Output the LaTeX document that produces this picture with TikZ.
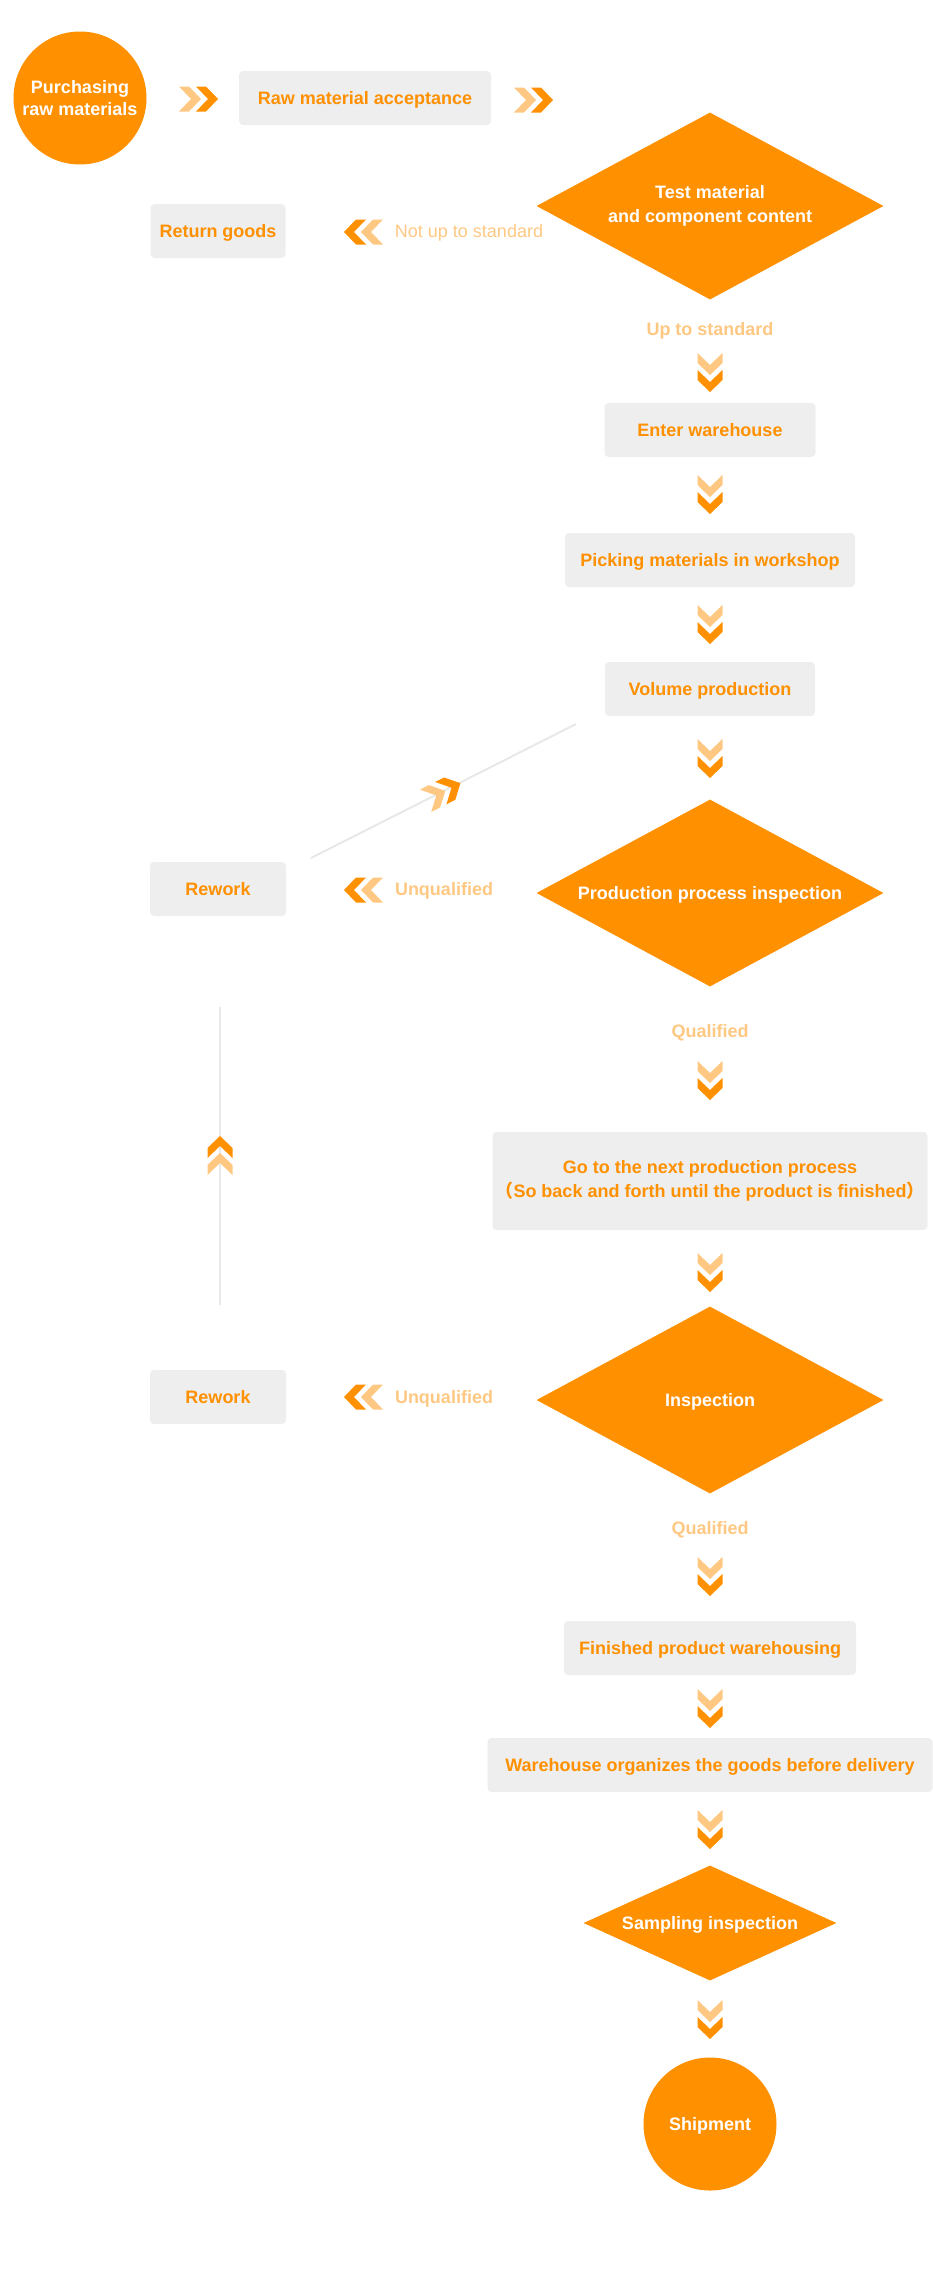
\documentclass[tikz,border=0pt]{standalone}
\usepackage{fontspec}
\setmainfont{Liberation Sans}
\newfontfamily\cjk{Noto Sans CJK SC}
\usetikzlibrary{shapes.geometric,positioning}
\definecolor{orng}{RGB}{255,144,0}
\definecolor{lorng}{RGB}{255,200,130}
\definecolor{boxgray}{RGB}{238,238,238}
\definecolor{linegray}{RGB}{232,232,232}
\tikzstyle{oneline} = [text height=13pt, text depth=0pt]
\tikzstyle{stepbox} = [rectangle, fill=boxgray, rounded corners=4pt, text=orng, align=center, inner sep=0pt, minimum height=54pt, font=\fontsize{18}{24}\selectfont\bfseries]
\tikzstyle{decide} = [diamond, fill=orng, text=white, align=center, inner sep=0pt, shape aspect=1.85, minimum width=347pt, minimum height=187pt, font=\fontsize{18}{24}\selectfont\bfseries]
\tikzstyle{ends} = [circle, fill=orng, text=white, align=center, inner sep=0pt, minimum size=133pt, font=\fontsize{18}{22}\selectfont\bfseries]
\tikzstyle{tag} = [oneline, text=lorng, font=\fontsize{18}{22}\selectfont\bfseries]
\tikzstyle{tagthin} = [oneline, text=lorng, font=\fontsize{18}{22}\selectfont]
\tikzstyle{backline} = [draw=linegray, line width=2pt]
\tikzset{dchev/.pic={
  \fill[lorng] (0,-12.5) -- (12,0) -- (0,12.5) -- (10,12.5) -- (22,0) -- (10,-12.5) -- cycle;
  \fill[orng] (17,-12.5) -- (29,0) -- (17,12.5) -- (27,12.5) -- (39,0) -- (27,-12.5) -- cycle;
}}

\begin{document}
\begin{tikzpicture}[x=1pt, y=-1pt]
\useasboundingbox (0,0) rectangle (932,2294);

\node [ends] (buy) at (80,98) {Purchasing\\raw materials};
\node [stepbox, oneline, right of = buy, node distance = 285pt, minimum width = 252pt] (accept) {Raw material acceptance};
\node [decide] (test) at (710,206) {Test material\\and component content};
\node [stepbox, oneline, left of = test, node distance = 492pt, yshift = -25pt, minimum width = 135pt] (back) {Return goods};
\node [tagthin, right of = back, node distance = 251pt] (nup) {Not up to standard};
\node [tag, below of = test, node distance = 123pt] (upstd) {Up to standard};

\node [stepbox, oneline, below of = test, node distance = 224pt, minimum width = 211pt] (store) {Enter warehouse};
\node [stepbox, oneline, below of = store, node distance = 130pt, minimum width = 290pt] (pick) {Picking materials in workshop};
\node [stepbox, oneline, below of = pick, node distance = 129pt, minimum width = 210pt] (volume) {Volume production};

\node [decide, oneline, below of = volume, node distance = 204pt] (ppi) {Production process inspection};
\node [stepbox, oneline, left of = ppi, node distance = 492pt, yshift = 4pt, minimum width = 136pt] (redo1) {Rework};
\node [tag, right of = redo1, node distance = 226pt] (unq1) {Unqualified};
\node [tag, below of = ppi, node distance = 138pt] (q1) {Qualified};
\node [stepbox, below of = ppi, node distance = 288pt, minimum width = 435pt, minimum height = 98pt] (next) {Go to the next production process\\{\cjk （}So back and forth until the product is finished{\cjk ）}};

\node [decide, oneline, below of = next, node distance = 219pt] (insp) {Inspection};
\node [stepbox, oneline, left of = insp, node distance = 492pt, yshift = 3pt, minimum width = 136pt] (redo2) {Rework};
\node [tag, right of = redo2, node distance = 226pt] (unq2) {Unqualified};
\node [tag, below of = insp, node distance = 128pt] (q2) {Qualified};

\node [stepbox, oneline, below of = insp, node distance = 248pt, minimum width = 292pt] (finish) {Finished product warehousing};
\node [stepbox, oneline, below of = finish, node distance = 117pt, minimum width = 445pt] (organize) {Warehouse organizes the goods before delivery};
\node [decide, oneline, below of = organize, node distance = 158pt, shape aspect = 2.2, minimum width = 253pt, minimum height = 115pt] (sample) {Sampling inspection};
\node [ends, oneline, below of = sample, node distance = 201pt] (ship) {Shipment};

\coordinate (lnA) at (311,858);
\coordinate (lnB) at (576,724);
\coordinate (lnC) at (220,1305);
\coordinate (lnD) at (220,1007);
\path [backline] (lnA) -- (lnB);
\path [backline] (lnC) -- (lnD);

\pic at (179,99) {dchev};
\pic at (514,100) {dchev};
\pic [rotate=180] at (383,232) {dchev};
\pic [rotate=180] at (383,890) {dchev};
\pic [rotate=180] at (383,1397) {dchev};
\pic [rotate=90] at (220,1175) {dchev};
\pic [rotate=26.8] at (425.6,800.8) {dchev};

\pic [rotate=-90] at (710,353) {dchev};
\pic [rotate=-90] at (710,475) {dchev};
\pic [rotate=-90] at (710,605) {dchev};
\pic [rotate=-90] at (710,739) {dchev};
\pic [rotate=-90] at (710,1061) {dchev};
\pic [rotate=-90] at (710,1253) {dchev};
\pic [rotate=-90] at (710,1557) {dchev};
\pic [rotate=-90] at (710,1689) {dchev};
\pic [rotate=-90] at (710,1810) {dchev};
\pic [rotate=-90] at (710,2000) {dchev};

\end{tikzpicture}
\end{document}
